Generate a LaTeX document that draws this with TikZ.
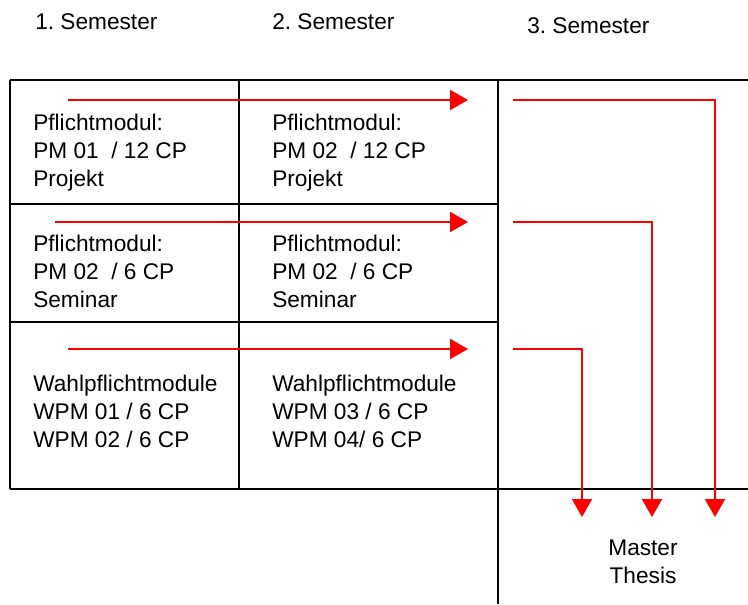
\documentclass[tikz,border=0pt]{standalone}
\usepackage{fontspec}
\setmainfont{Liberation Sans}
\usetikzlibrary{arrows.meta}
\frenchspacing
\tikzset{
  celltext/.style={anchor=west,inner sep=0pt,align=left,font=\fontsize{17}{21}\selectfont},
  grid/.style={black,line width=1.4pt},
  flow/.style={red,line width=1.5pt,-{Triangle[length=13.5pt,width=15pt]}}
}

\begin{document}
\begin{tikzpicture}[x=0.75pt,y=-0.75pt]

\useasboundingbox (0,0) rectangle (748,604);

% headers
\node[celltext] (sem1) at (35,22) {1. Semester};
\node[celltext] (sem2) at (272,22) {2. Semester};
\node[celltext] (sem3) at (527,26) {3. Semester};

% table
\draw[grid] (10,80) -- (748,80);
\draw[grid] (10,204) -- (498,204);
\draw[grid] (10,322) -- (498,322);
\draw[grid] (10,489) -- (748,489);
\draw[grid] (10,80) -- (10,489);
\draw[grid] (239,80) -- (239,489);
\draw[grid] (498,80) -- (498,604);

% cells
\node[celltext] (pm1) at (33,153) {Pflichtmodul:\\PM 01~ / 12 CP\\Projekt};
\node[celltext] (pm2) at (272,153) {Pflichtmodul:\\PM 02~ / 12 CP\\Projekt};
\node[celltext] (sem1b) at (33,271) {Pflichtmodul:\\PM 02~ / 6 CP\\Seminar};
\node[celltext] (sem2b) at (272,271) {Pflichtmodul:\\PM 02~ / 6 CP\\Seminar};
\node[celltext] (wpm1) at (33,411) {Wahlpflichtmodule\\WPM 01 / 6 CP\\WPM 02 / 6 CP};
\node[celltext] (wpm2) at (272,411) {Wahlpflichtmodule\\WPM 03 / 6 CP\\WPM 04/ 6 CP};
\node[celltext,anchor=center,align=center] (thesis) at (643,562) {Master\\Thesis};

% arrow points
\coordinate (a1) at (68,100);
\coordinate (b1) at (468,100);
\coordinate (a2) at (55,222);
\coordinate (b2) at (468,222);
\coordinate (a3) at (68,349);
\coordinate (b3) at (468,349);
\coordinate (c1) at (513,100);
\coordinate (d1) at (715,517);
\coordinate (c2) at (513,222);
\coordinate (d2) at (652,517);
\coordinate (c3) at (513,349);
\coordinate (d3) at (582,517);

\draw[flow] (a1) -- (b1);
\draw[flow] (a2) -- (b2);
\draw[flow] (a3) -- (b3);
\draw[flow] (c1) -| (d1);
\draw[flow] (c2) -| (d2);
\draw[flow] (c3) -| (d3);

\end{tikzpicture}
\end{document}
